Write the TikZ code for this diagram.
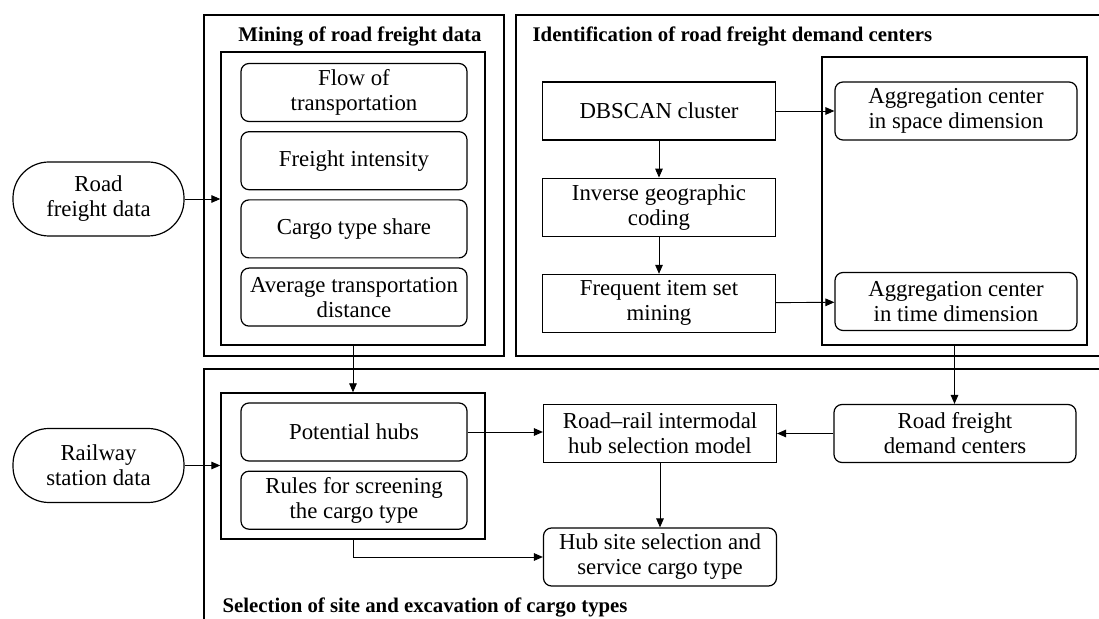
\documentclass[tikz,border=0pt]{standalone}
\usepackage{fontspec}
\setmainfont{Liberation Serif}
\tikzset{
every picture/.style={
line width=0.6pt
}}
\usetikzlibrary{arrows.meta,
                chains,
                positioning}

\begin{document}
\begin{tikzpicture}[
    x=0.5pt, y=-0.5pt,
    node distance = 4.5pt,
      frame/.style = {draw, line width=0.7pt},
    section/.style = {inner sep=0pt, font=\fontsize{10.4}{12}\selectfont\bfseries},
       base/.style = {draw, align=center, inner sep=2pt,
                      font=\fontsize{11.4}{12.5}\selectfont},
       item/.style = {base, rectangle, rounded corners=4pt,
                      minimum width=113pt, minimum height=29pt},
    process/.style = {base, rectangle, minimum width=116.5pt, minimum height=29pt},
   terminal/.style = {base, rectangle, rounded corners=18pt,
                      minimum width=85.5pt, minimum height=37pt},
      inbox/.style = {frame, inner sep=0pt},
       link/.style = {-{Triangle[length=4.5pt,width=3.8pt]}, line width=0.45pt}
                    ]
\clip (0,0) rectangle (1099,619);
% section frames
\draw[frame] (204,15) rectangle (504,356);
\draw[frame] (516,15) rectangle (1120,356);
\draw[frame] (204,369) rectangle (1120,640);
\node[section] (tMine) at (360,36) {Mining of road freight data};
\node[section, anchor=west] (tIdent) at (532,36) {Identification of road freight demand centers};
\node[section, anchor=west] (tSelect) at (222,607) {Selection of site and excavation of cargo types};
% inner frames
\node[inbox, minimum width=132pt, minimum height=146.5pt] (mineIn) at (353,198.5) {};
\node[inbox, minimum width=132.5pt, minimum height=144pt] (aggIn) at (954.5,201) {};
\node[inbox, minimum width=132pt, minimum height=73pt] (hubIn) at (353,466) {};
% mining of road freight data
\begin{scope}[start chain=M going below]
\node[item, on chain] (flow) at (354,92.5) {Flow of\\transportation};
\node[item, on chain] (intensity) {Freight intensity};
\node[item, on chain] (share) {Cargo type share};
\node[item, on chain] (distance) {Average transportation\\distance};
\end{scope}
% demand centers
\begin{scope}[start chain=G going below, node distance=18.5pt]
\node[process, on chain] (dbscan) at (659,111) {DBSCAN cluster};
\node[process, on chain] (geoCode) {Inverse geographic\\coding};
\node[process, on chain] (itemSet) {Frequent item set\\mining};
\end{scope}
\node[item, minimum width=121pt] (aggSpace) at (956,111) {Aggregation center\\in space dimension};
\node[item, minimum width=121pt] (aggTime) at (956,301.5) {Aggregation center\\in time dimension};
% site selection
\node[item] (potHubs) at (354,432) {Potential hubs};
\node[item, below=of potHubs] (rules) {Rules for screening\\the cargo type};
\node[process] (hubModel) at (660,433.5) {Road--rail intermodal\\hub selection model};
\node[item, minimum width=121pt] (demand) at (955,433.5) {Road freight\\demand centers};
\node[item, minimum width=116.5pt] (hubSite) at (660,557) {Hub site selection and\\service cargo type};
% data sources
\node[terminal] (roadData) at (98.5,199) {Road\\freight data};
\node[terminal] (railData) at (98.5,465.5) {Railway\\station data};
%%
\draw[link] (roadData.east) -- (roadData.east -| mineIn.west);
\draw[link] (mineIn) -- (hubIn);
\draw[link] (railData.east) -- (railData.east -| hubIn.west);
\draw[link] (dbscan) -- (geoCode);
\draw[link] (geoCode) -- (itemSet);
\draw[link] (dbscan) -- (aggSpace);
\draw[link] (itemSet) -- (aggTime);
\draw[link] (aggIn.south) -- (aggIn.south |- demand.north);
\draw[link] (potHubs.east) -- (potHubs.east -| hubModel.west);
\draw[link] (demand.west) -- (demand.west -| hubModel.east);
\draw[link] (hubModel) -- (hubSite);
\draw[link] (hubIn.south) |- (hubSite.west);
\end{tikzpicture}
\end{document}
